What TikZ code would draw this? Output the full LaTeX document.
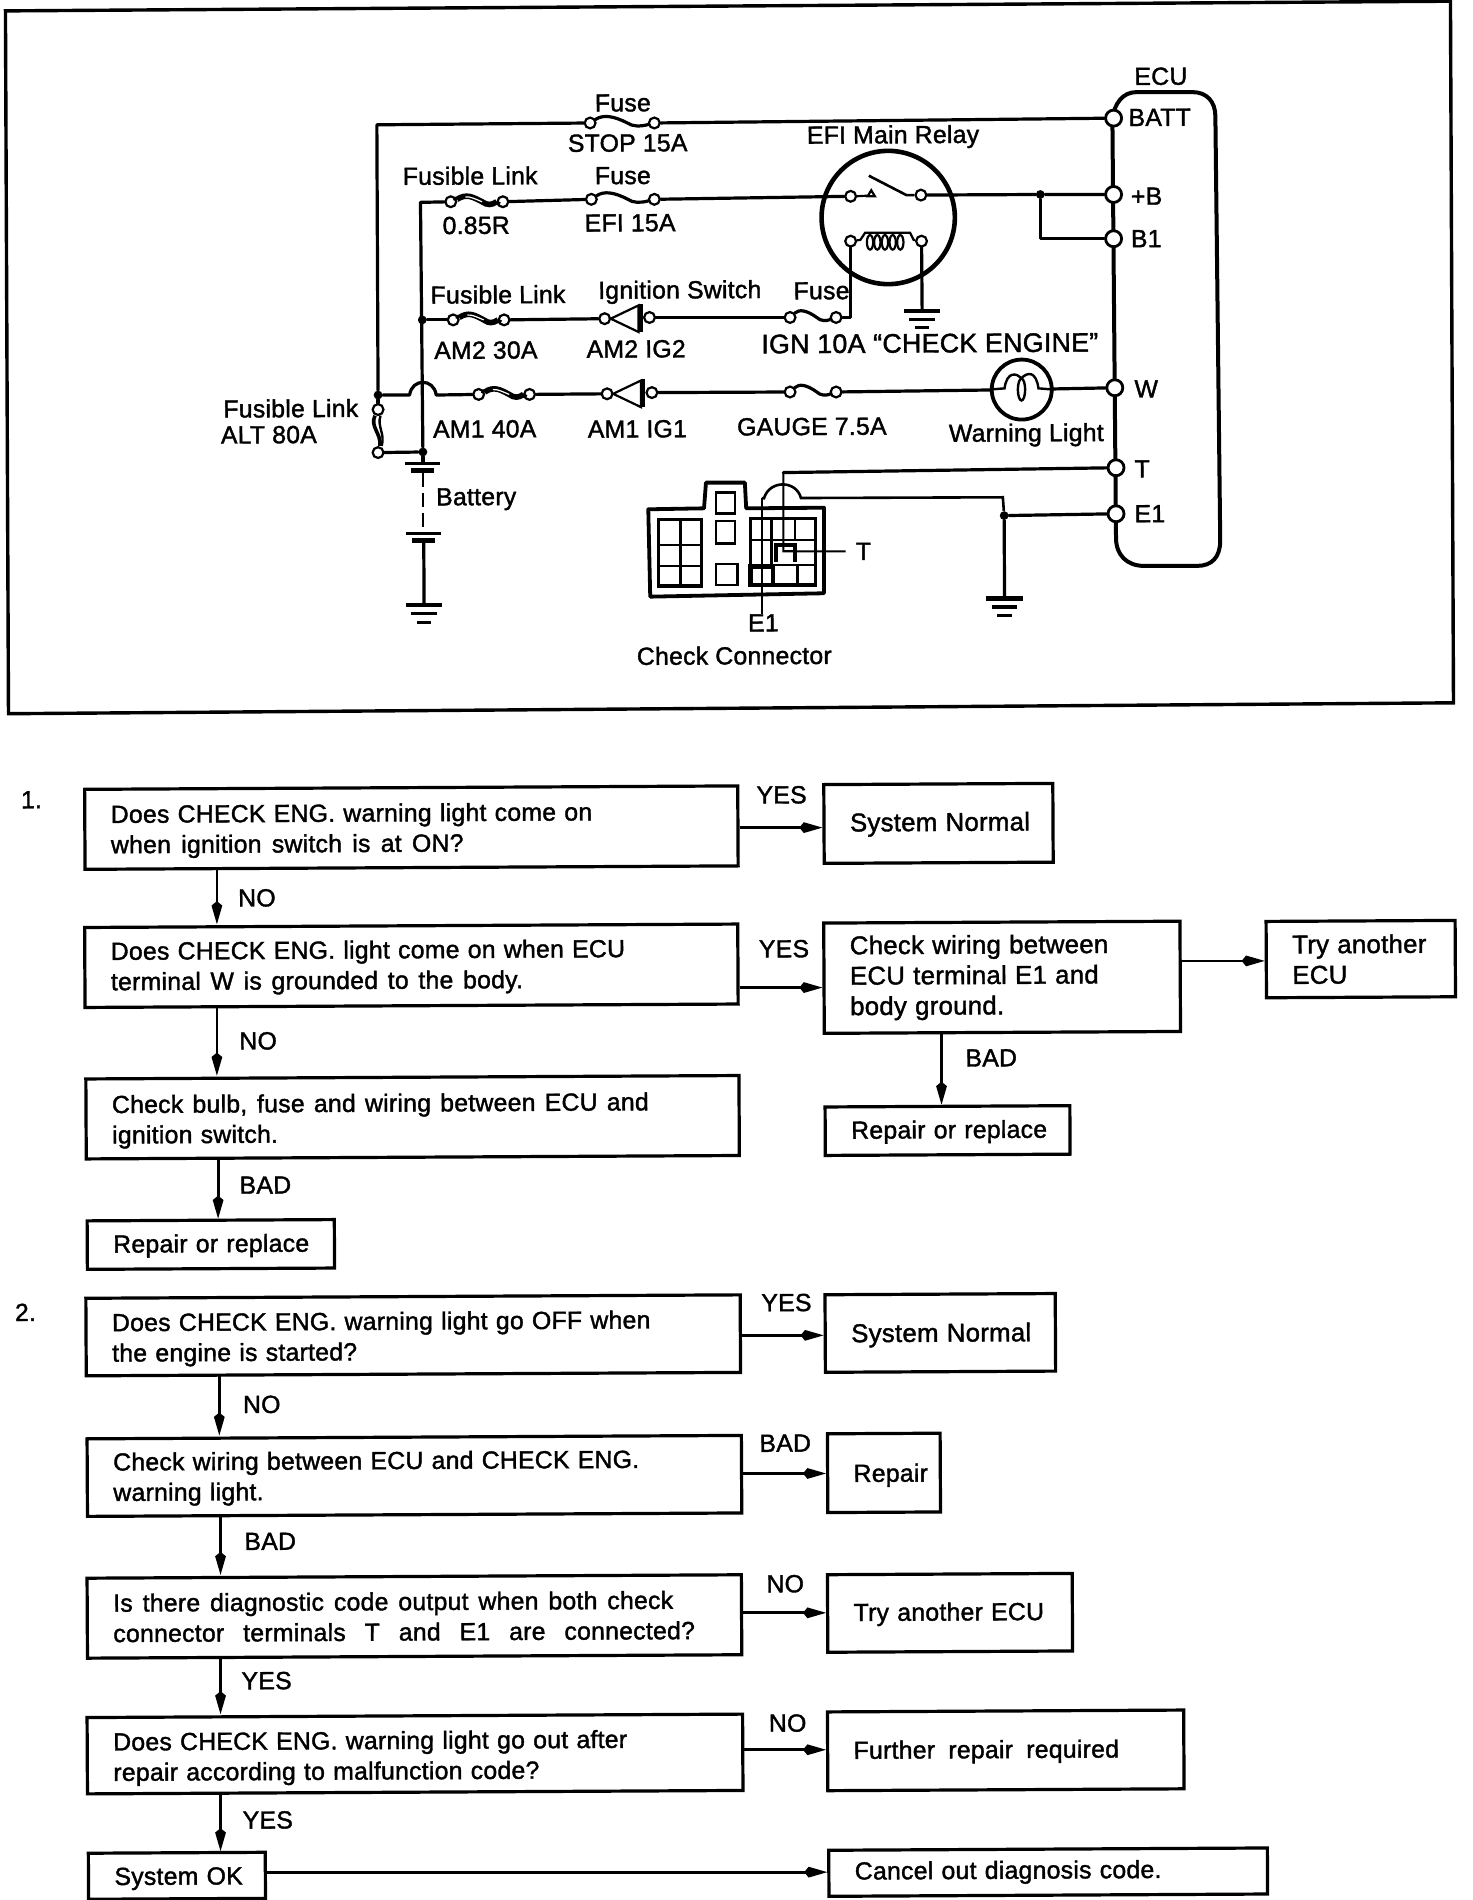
\documentclass[tikz,border=0pt]{standalone}
\usepackage{fontspec}
\setmainfont[FakeBold=1.5]{Liberation Sans}
\newfontfamily\ff[FakeBold=1.5,LetterSpace=1.0]{Liberation Sans}
\usetikzlibrary{arrows.meta,calc}
\def\un{0.6058}
\tikzset{
 wire/.style={line width=1.6pt,line join=round,line cap=round},
 thinw/.style={line width=1.1pt},
 term/.style={circle,draw,line width=1.1pt,fill=white,minimum size=5.4pt,inner sep=0pt},
 ecut/.style={circle,draw,line width=1.4pt,fill=white,minimum size=8pt,inner sep=0pt},
 jdot/.style={circle,fill=black,minimum size=4.4pt,inner sep=0pt},
 lbl/.style={font=\ff\fontsize{12.4}{14}\selectfont,inner sep=0pt,rotate=0.3},
 ftxt/.style={font=\ff\fontsize{12.4}{15}\selectfont,inner sep=0pt,rotate=0.3},
 fbox/.style={draw,line width=1.6pt,font=\ff\fontsize{12.4}{15.2}\selectfont,align=left,inner sep=0pt,rotate=0.3},
 arr/.style={line width=1.4pt,-{Kite[length=11.5pt,width=5.4pt,inset=2.2pt]}},
}
\newcommand{\fbx}[7][0]{%
 \pgfmathsetmacro\bw{(#5-#3)*\un}\pgfmathsetmacro\bh{(#6-#4)*\un}%
 \node[fbox,minimum width=\bw pt,minimum height=\bh pt,text width=\bw pt] (#2) at ({(#3+#5)/2},{(#4+#6)/2}) {\hyphenpenalty=10000 \leftskip=13pt \ifdim#1pt<0pt\leavevmode\rule{0pt}{\dimexpr9.1pt-#1pt\relax}\fi #7\par\ifdim#1pt>0pt\vspace{#1pt}\fi};}
\newcommand{\fusesym}[4]{%
 \begin{scope}[shift={(#2,#3)}]
 \node[term] (#1a) at (0,0) {}; \node[term] (#1b) at (#4,0) {};
 \draw[wire] (#1a) .. controls ({.2*#4},-7) and ({.36*#4},-6) .. ({.58*#4},0) .. controls ({.66*#4},3) and ({.78*#4},3) .. (#1b);
 \end{scope}}
\newcommand{\flink}[4]{%
 \begin{scope}[shift={(#2,#3)}]
 \node[term] (#1a) at (0,0) {}; \node[term] (#1b) at (#4,0) {};
 \draw[line width=2.8pt] ({.12*#4},-2) .. controls ({.3*#4},-7) and ({.42*#4},-4) .. ({.6*#4},0) .. controls ({.7*#4},3) and ({.78*#4},3) .. ({.88*#4},0);
 \draw[white,line width=.6pt] ({.28*#4},-4) .. controls ({.38*#4},-4.5) and ({.48*#4},-2) .. ({.6*#4},0);
 \draw[wire] (#1a) -- ++(3,-2); \draw[wire] (#1b) -- ++(-3,1);
 \end{scope}}
\newcommand{\ignsw}[3]{%
 \begin{scope}[shift={(#2,#3)}]
 \node[term] (#1a) at (0,0) {}; \node[term] (#1b) at (37,-1) {};
 \draw[thinw] (5,0) -- (28,-11) -- (28,11) -- cycle;
 \draw[line width=2pt] (30,-12) -- (30,11);
 \end{scope}}
\newcommand{\gnd}[6]{%
 \coordinate (#1) at (#2,#3);
 \draw[line width=2.1pt] ({#2-#4},#3) -- ({#2+#4},#3);
 \draw[line width=1.6pt] ({#2-#5},{#3+7}) -- ({#2+#5},{#3+7});
 \draw[line width=1.6pt] ({#2-#6},{#3+14}) -- ({#2+#6},{#3+14});}
\newcommand{\fitl}[2]{\leavevmode\hbox to #1pt{\spaceskip=0pt\xspaceskip=0pt #2}}
\newcommand{\bigt}{\fontsize{12.9}{15.2}\selectfont}
\begin{document}
\begin{tikzpicture}[x=0.6058pt,y=-0.6058pt]
\useasboundingbox (0,0) rectangle (1215,1568);
\fill[white] (0,0) rectangle (1215,1568);
% frame
\draw[line width=1.7pt,line join=miter] (4.5,9) -- (1197,1) -- (1199.5,580) -- (7,589) -- cycle;
% ECU
\draw[line width=2pt] (918,97) .. controls (920,86) and (926,76) .. (938,76) -- (984,76) .. controls (996,76) and (1003,84) .. (1003,96) -- (1007,446) .. controls (1007,460) and (1000,467) .. (988,467) -- (944,467) .. controls (930,467) and (921,458) .. (921,444) -- cycle;
\node[ecut] (batt) at (919,97.5) {};
\node[ecut] (pb) at (919,160.5) {};
\node[ecut] (bone) at (919,197) {};
\node[ecut] (wt) at (920,320) {};
\node[ecut] (tt) at (921,386) {};
\node[ecut] (eone) at (921,424) {};
% left wiring
\node[jdot] (dalt) at (312,326) {};
\node[jdot] (dmain) at (348.5,264) {};
\node[jdot] (dbat) at (349,373) {};
\coordinate (ctop) at (311,103);
\coordinate (cefi) at (347,167);
\node[term] (alta) at (312,338) {};
\node[term] (altb) at (312,373.5) {};
\fusesym{fstop}{487}{101.5}{53}
\fusesym{fefi}{488}{164.5}{52}
\flink{lefi}{372}{166.5}{43}
\flink{lam2}{374}{264}{42}
\ignsw{swa}{499}{263}
\fusesym{fign}{652}{262}{38}
\flink{lam1}{395}{325.5}{42}
\ignsw{swb}{501}{325}
\fusesym{fgau}{652}{323.5}{38}
\draw[wire] (dalt) -- (ctop) -- (fstopa);
\draw[wire] (fstopb) -- (batt);
\draw[wire] (dbat) -- (cefi) -- (lefia);
\draw[wire] (lefib) -- (fefia);
\draw[wire] (dmain) -- (lam2a);
\draw[wire] (lam2b) -- (swaa);
\draw[wire] (swab) -- (figna);
\draw[wire] (dalt) -- (338,326) .. controls (340,312) and (358,312) .. (360,326) -- (lam1a);
\draw[wire] (lam1b) -- (swba);
\draw[wire] (swbb) -- (fgaua);
\draw[wire] (dalt) -- (alta);
\draw[wire] (altb) -- (dbat);
\draw[line width=1.8pt] (309.5,343) .. controls (305,352) and (315,358) .. (313.5,368);
\draw[line width=1.2pt] (314,343) .. controls (311,352) and (318,358) .. (315,368);
% relay
\draw[line width=2.3pt] (733,179.5) circle[radius=55];
\node[term] (ra) at (702,162) {};
\node[term] (rb) at (760,161) {};
\node[term] (rc) at (702,199) {};
\node[term] (rd) at (760.5,199) {};
\node[jdot] (drel) at (858.5,160.5) {};
\draw[wire] (fefib) -- (ra);
\draw[wire] (rb) -- (drel) -- (pb);
\draw[wire] (drel) -- (drel |- bone) -- (bone);
\draw[line width=1.3pt] (717,145) -- (748,161) -- (rb);
\draw[line width=1.1pt] (706,162) -- (716,161.5);
\draw[line width=1.1pt] (716,162) -- (719,157) -- (722,162) -- cycle;
\draw[wire] (fignb) -- (rc |- fignb) -- (rc);
\gnd{grel}{761}{256.5}{15}{11}{6}
\draw[wire] (rd) -- (grel);
\draw[line width=1.1pt] (rc) -- (710,198) -- (714,192) -- (751,192) -- (754,198) -- (rd);
\foreach \cx in {718,724,730.3,736.7,743} \draw[line width=1.1pt] (\cx,200) ellipse [x radius=2.6,y radius=6];
% lamp
\node[circle,draw,line width=1.9pt,minimum size=30pt,inner sep=0pt] (lamp) at (843.2,321.5) {};
\draw[wire] (fgaub) -- (lamp);
\draw[wire] (lamp) -- (wt);
\draw[line width=1.2pt] (lamp.west) -- (829,320.5) .. controls (831,306) and (839,308) .. (843,312) .. controls (848,307) and (855,306) .. (857,320.5) -- (lamp.east);
\draw[line width=1.2pt] (843,321.5) ellipse [x radius=3,y radius=9];
% battery
\draw[wire] (dbat) -- (349,382);
\draw[line width=1.6pt] (334,382.5) -- (363,382.5);
\draw[line width=2.4pt] (339.5,388) -- (358,388);
\draw[line width=1.1pt,dash pattern=on 7pt off 3pt] (349,390) -- (349,438);
\draw[line width=1.6pt] (335,440) -- (364,440);
\draw[line width=2.4pt] (340,446) -- (359,446);
\gnd{gbat}{350}{499.5}{15}{11}{6}
\draw[wire] (349.7,447) -- (gbat);
% check connector
\draw[line width=1.9pt,line join=round] (535,420.3) -- (581,419.5) -- (582.6,398.3) -- (614.7,398.3) -- (615.8,419.5) -- (680,419) -- (680,489.6) -- (536.6,492.4) -- cycle;
\draw[line width=1.6pt] (543.2,428.6) rectangle (579,483.6);
\draw[line width=1.3pt] (561.6,428.6) -- (561.6,483.6) (543.2,449.8) -- (579,449.8) (543.2,467.1) -- (579,467.1);
\draw[line width=1.3pt] (591,406.6) rectangle (606.5,424);
\draw[line width=1.3pt] (591,430) rectangle (606.5,448.4);
\draw[line width=1.3pt] (591,465.4) rectangle (608.4,482.8);
\draw[line width=1.6pt] (619.5,427.7) rectangle (673,482.8);
\draw[line width=1.3pt] (619.5,445.6) -- (673,445.6) (619.5,466.3) -- (673,466.3);
\draw[line width=1.2pt] (636.8,427.7) -- (636.8,466.3) (656.3,427.7) -- (656.3,445.6) (658,466.3) -- (658,482.8);
\draw[line width=2.2pt] (619.5,467.6) rectangle (638,482.8);
\draw[line width=2pt] (640.5,463.5) -- (640.5,449.8) -- (656.3,449.8) -- (656.3,463.5);
\node[lbl] (tlab) at (712.6,455) {T};
\node[lbl] (elab) at (630,514) {E1};
\draw[line width=1.1pt] (646.5,390) -- (646.5,455) -- ([xshift=-5pt]tlab.west);
\draw[wire] (tt) -- (646.5,390);
\node[jdot] (dgnd) at (828.7,425.5) {};
\gnd{ggnd}{829}{494}{15.5}{10.5}{6}
\draw[wire] (eone) -- (dgnd) -- (ggnd);
\draw[line width=1.3pt] (dgnd) -- (827.6,410.4) -- (661,411) .. controls (657,396) and (635,396) .. (630.5,411.2) -- (628.7,411.2);
\draw[line width=1.1pt] (628.7,411.2) -- (elab.north -| 628.7,0);
% circuit labels
\node[lbl] (l1) at (514,85) {Fuse};
\node[lbl] (l2) at (518,118) {STOP 15A};
\node[lbl] (l3) at (737,113) {EFI Main Relay};
\node[lbl] (l4) at (388,145) {Fusible Link};
\node[lbl] (l5) at (514,145) {Fuse};
\node[lbl] (l6) at (393,186) {0.85R};
\node[lbl] (l7) at (520,184) {EFI 15A};
\node[lbl] (l8) at (411,243) {Fusible Link};
\node[lbl] (l9) at (561,241) {Ignition Switch};
\node[lbl] (l10) at (678,240) {Fuse};
\node[lbl] (l11) at (401,289) {AM2 30A};
\node[lbl] (l12) at (525,288) {AM2 IG2};
\node[lbl,anchor=west,font=\ff\fontsize{13.4}{14}\selectfont] (l13) at (628,284) {IGN 10A “CHECK ENGINE”};
\node[lbl] (l14) at (240,337) {Fusible Link};
\node[lbl,anchor=west] (l15) at (182,359) {ALT 80A};
\node[lbl] (l16) at (400,354) {AM1 40A};
\node[lbl] (l17) at (526,354) {AM1 IG1};
\node[lbl] (l18) at (670,352) {GAUGE 7.5A};
\node[lbl] (l19) at (847,359) {Warning Light};
\node[lbl] (l20) at (393,412) {Battery};
\node[lbl] (l21) at (606,541) {Check Connector};
\node[lbl] (l22) at (958,63) {ECU};
\node[lbl,anchor=west] (l23) at (931,97) {BATT};
\node[lbl,anchor=west] (l24) at (933,162) {+B};
\node[lbl,anchor=west] (l25) at (933,197) {B1};
\node[lbl,anchor=west] (l26) at (936,321) {W};
\node[lbl,anchor=west] (l27) at (936,387) {T};
\node[lbl,anchor=west] (l28) at (936,424) {E1};
% flow 1
\node[ftxt] (n1) at (26,660) {1.};
\fbx[-2.4]{b1}{70}{650}{609}{716}{Does CHECK ENG. warning light come on\\\fitl{176.3}{when ignition switch is at ON?}}
\fbx[-1.2]{s1}{680}{647}{869}{712}{\bigt System Normal}
\fbx[-1.2]{b2}{70}{764}{609}{830}{Does CHECK ENG. light come on when ECU\\\fitl{206}{terminal W is grounded to the body.}}
\fbx[7.2]{b3}{680}{761}{974}{852}{\bigt Check wiring between\\ECU terminal E1 and\\body ground.}
\fbx[7.2]{b4}{1045}{760}{1201}{823}{\bigt Try another\\ECU}
\fbx[-1.2]{b5}{681}{913}{883}{953}{Repair or replace}
\fbx[-3]{b6}{71}{889}{610}{955}{\fitl{268.4}{Check bulb, fuse and wiring between ECU and}\\ignition switch.}
\fbx[-1.2]{b7}{72}{1007}{276}{1047}{Repair or replace}
\draw[arr] (b1.east |- 0,683) -- (s1.west |- 0,683);
\draw[arr] (b1.south -| 179,0) -- (b2.north -| 179,0);
\draw[arr] (b2.east |- 0,815) -- (b3.west |- 0,815);
\draw[arr] (b3.east |- 0,793) -- (b4.west |- 0,793);
\draw[arr] (b3.south -| 777,0) -- (b5.north -| 777,0);
\draw[arr] (b2.south -| 179,0) -- (b6.north -| 179,0);
\draw[arr] (b6.south -| 180,0) -- (b7.north -| 180,0);
\node[ftxt] (y1) at (645,656) {YES};
\node[ftxt] (y2) at (212,741) {NO};
\node[ftxt] (y3) at (647,783) {YES};
\node[ftxt] (y4) at (213,859) {NO};
\node[ftxt] (y5) at (818,873) {BAD};
\node[ftxt] (y6) at (219,978) {BAD};
% flow 2
\node[ftxt] (n2) at (21,1083) {2.};
\fbx[-3]{c1}{71}{1070}{611}{1134}{Does CHECK ENG. warning light go OFF when\\the engine is started?}
\fbx[-2.4]{s2}{681}{1068}{871}{1132}{\bigt System Normal}
\fbx[-1.8]{c2}{72}{1186}{612}{1250}{Check wiring between ECU and CHECK ENG.\\warning light.}
\fbx[-2.4]{r2}{683}{1183}{776}{1248}{Repair}
\fbx[1.8]{c3}{72}{1301}{612}{1367}{\fitl{280}{Is there diagnostic code output when both check}\\\fitl{290.8}{connector terminals T and E1 are connected?}}
\fbx[-1.2]{t2}{683}{1299}{885}{1363}{Try another ECU}
\fbx[-3.6]{c4}{72}{1416}{613}{1479}{Does CHECK ENG. warning light go out after\\repair according to malfunction code?}
\fbx[-1.2]{f2}{683}{1412}{977}{1477}{\fitl{132.7}{Further repair required}}
\fbx[-2.4]{k2}{73}{1529}{219}{1567}{System OK}
\fbx[4.2]{x2}{684}{1526}{1046}{1564}{Cancel out diagnosis code.}
\draw[arr] (c1.east |- 0,1102) -- (s2.west |- 0,1102);
\draw[arr] (c1.south -| 181,0) -- (c2.north -| 181,0);
\draw[arr] (c2.east |- 0,1216) -- (r2.west |- 0,1216);
\draw[arr] (c2.south -| 182,0) -- (c3.north -| 182,0);
\draw[arr] (c3.east |- 0,1331) -- (t2.west |- 0,1331);
\draw[arr] (c3.south -| 182,0) -- (c4.north -| 182,0);
\draw[arr] (c4.east |- 0,1444) -- (f2.west |- 0,1444);
\draw[arr] (c4.south -| 182,0) -- (k2.north -| 182,0);
\draw[arr] (k2.east |- 0,1545) -- (x2.west |- 0,1545);
\node[ftxt] (z1) at (649,1075) {YES};
\node[ftxt] (z2) at (216,1159) {NO};
\node[ftxt] (z3) at (648,1191) {BAD};
\node[ftxt] (z4) at (223,1272) {BAD};
\node[ftxt] (z5) at (648,1307) {NO};
\node[ftxt] (z6) at (220,1387) {YES};
\node[ftxt] (z7) at (650,1422) {NO};
\node[ftxt] (z8) at (221,1502) {YES};
\end{tikzpicture}
\end{document}
